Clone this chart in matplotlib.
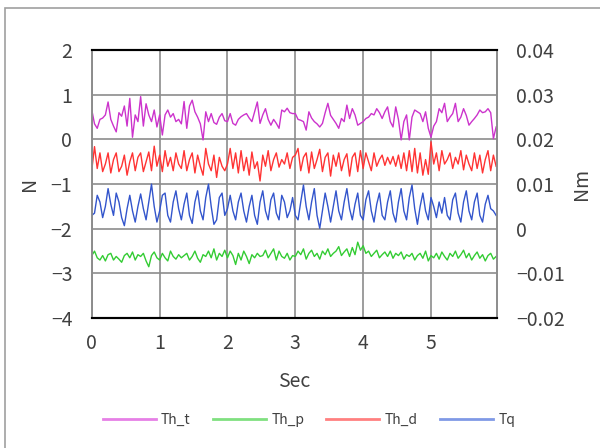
import numpy as np
import matplotlib
matplotlib.use('Agg')
import matplotlib.pyplot as plt
from matplotlib.lines import Line2D
from matplotlib.patches import Rectangle

plt.rcParams['font.family'] = ['Noto Sans CJK KR', 'DejaVu Sans']

SAMPLE_DT = 0.04  # sec between samples

# Thrust components [N]
th_t = [0.66, 0.35, 0.25, 0.45, 0.48, 0.55, 0.84, 0.45, 0.30, 0.17, 0.60, 0.52, 0.75, 0.30, 0.92, 0.05, 0.55, 0.40, 0.96, 0.30, 0.80, 0.55, 0.40, 0.66, 0.28,
        0.55, 0.10, 0.55, 0.66, 0.50, 0.58, 0.40, 0.45, 0.35, 0.85, 0.25, 0.75, 0.88, 0.62, 0.50, 0.35, -0.01, 0.62, 0.40, 0.58, 0.38, 0.34, 0.50, 0.58, 0.42,
        0.40, 0.58, 0.36, 0.32, 0.45, 0.51, 0.55, 0.58, 0.48, 0.40, 0.62, 0.84, 0.36, 0.55, 0.69, 0.45, 0.32, 0.45, 0.36, 0.25, 0.66, 0.62, 0.70, 0.60, 0.58,
        0.58, 0.45, 0.43, 0.40, 0.21, 0.62, 0.48, 0.40, 0.35, 0.28, 0.36, 0.60, 0.81, 0.54, 0.45, 0.36, 0.25, 0.47, 0.40, 0.77, 0.47, 0.69, 0.55, 0.32, 0.36,
        0.40, 0.47, 0.50, 0.58, 0.55, 0.69, 0.60, 0.47, 0.62, 0.73, 0.40, 0.28, 0.73, 0.45, -0.01, 0.40, 0.55, -0.01, 0.50, 0.66, 0.62, 0.58, 0.40, 0.62, 0.25,
        0.05, 0.30, 0.40, 0.69, 0.60, 0.81, 0.40, 0.50, 0.58, 0.81, 0.40, 0.50, 0.69, 0.54, 0.32, 0.40, 0.47, 0.55, 0.66, 0.60, 0.62, 0.69, 0.60, 0.02, 0.28]

th_p = [-2.60, -2.50, -2.65, -2.70, -2.60, -2.72, -2.58, -2.55, -2.70, -2.62, -2.68, -2.75, -2.60, -2.55, -2.65, -2.52, -2.70, -2.58, -2.62, -2.55, -2.72, -2.85, -2.60, -2.52, -2.65,
        -2.70, -2.55, -2.65, -2.72, -2.50, -2.62, -2.68, -2.58, -2.65, -2.60, -2.55, -2.70, -2.62, -2.50, -2.66, -2.75, -2.58, -2.62, -2.50, -2.65, -2.45, -2.70, -2.55, -2.62, -2.48,
        -2.65, -2.50, -2.60, -2.80, -2.55, -2.70, -2.50, -2.62, -2.78, -2.58, -2.65, -2.55, -2.62, -2.60, -2.48, -2.65, -2.55, -2.45, -2.70, -2.50, -2.62, -2.66, -2.55, -2.70, -2.60,
        -2.62, -2.50, -2.58, -2.45, -2.68, -2.55, -2.48, -2.62, -2.55, -2.68, -2.50, -2.58, -2.45, -2.62, -2.55, -2.50, -2.40, -2.60, -2.52, -2.45, -2.62, -2.42, -2.58, -2.30, -2.48,
        -2.38, -2.55, -2.50, -2.62, -2.55, -2.48, -2.65, -2.58, -2.52, -2.62, -2.50, -2.66, -2.55, -2.60, -2.52, -2.68, -2.58, -2.62, -2.55, -2.70, -2.60, -2.55, -2.66, -2.50, -2.72,
        -2.60, -2.65, -2.55, -2.68, -2.52, -2.62, -2.70, -2.55, -2.62, -2.50, -2.66, -2.58, -2.48, -2.65, -2.55, -2.70, -2.60, -2.52, -2.66, -2.58, -2.72, -2.60, -2.55, -2.68, -2.62]

th_d = [-0.68, -0.16, -0.65, -0.30, -0.72, -0.55, -0.30, -0.75, -0.45, -0.30, -0.72, -0.60, -0.35, -0.80, -0.50, -0.30, -0.70, -0.40, -0.30, -0.72, -0.50, -0.28, -0.70, -0.15, -0.60,
        -0.35, -0.72, -0.25, -0.60, -0.40, -0.70, -0.30, -0.55, -0.65, -0.25, -0.70, -0.45, -0.30, -0.75, -0.35, -0.60, -0.80, -0.20, -0.55, -0.70, -0.35, -0.85, -0.40, -0.60, -0.70,
        -0.55, -0.20, -0.65, -0.30, -0.75, -0.25, -0.70, -0.40, -0.80, -0.28, -0.65, -0.50, -0.93, -0.35, -0.60, -0.25, -0.70, -0.45, -0.30, -0.62, -0.45, -0.55, -0.30, -0.65, -0.40,
        -0.35, -0.20, -0.70, -0.40, -0.30, -0.75, -0.28, -0.65, -0.45, -0.22, -0.72, -0.40, -0.30, -0.82, -0.35, -0.60, -0.30, -0.70, -0.45, -0.32, -0.82, -0.40, -0.30, -0.72, -0.25,
        -0.65, -0.30, -0.50, -0.70, -0.30, -0.60, -0.45, -0.35, -0.58, -0.40, -0.55, -0.38, -0.60, -0.35, -0.65, -0.30, -0.70, -0.25, -0.72, -0.20, -0.75, -0.30, -0.80, -0.45, -0.78,
        -0.05, -0.55, -0.30, -0.70, -0.25, -0.55, -0.45, -0.30, -0.65, -0.40, -0.55, -0.25, -0.68, -0.35, -0.55, -0.70, -0.30, -0.65, -0.35, -0.75, -0.45, -0.25, -0.70, -0.35, -0.60]

# Torque [Nm] (right axis)
tq = [0.0030, 0.0035, 0.0075, 0.0060, 0.0025, 0.0050, 0.0090, 0.0055, 0.0030, 0.0080, 0.0060, 0.0025, 0.0007, 0.0045, 0.0075, 0.0040, 0.0015, 0.0050, 0.0078, 0.0045, 0.0020, 0.0060, 0.0100, 0.0050, 0.0015,
      0.0040, 0.0075, 0.0080, 0.0030, 0.0015, 0.0060, 0.0085, 0.0045, 0.0020, 0.0055, 0.0080, 0.0030, 0.0012, 0.0060, 0.0085, 0.0040, 0.0020, 0.0070, 0.0100, 0.0050, 0.0010, 0.0020, 0.0070, 0.0080, 0.0030,
      0.0045, 0.0075, 0.0040, 0.0020, 0.0060, 0.0080, 0.0040, 0.0015, 0.0050, 0.0075, 0.0030, 0.0010, 0.0060, 0.0085, 0.0040, 0.0020, 0.0065, 0.0080, 0.0035, 0.0020, 0.0075, 0.0060, 0.0025, 0.0040, 0.0070,
      0.0030, 0.0020, 0.0060, 0.0098, 0.0050, 0.0020, 0.0060, 0.0090, 0.0030, 0.0001, 0.0040, 0.0080, 0.0050, 0.0015, 0.0050, 0.0085, 0.0040, 0.0020, 0.0060, 0.0090, 0.0045, 0.0020, 0.0055, 0.0080, 0.0030,
      0.0020, 0.0065, 0.0085, 0.0040, 0.0015, 0.0055, 0.0080, 0.0030, 0.0020, 0.0060, 0.0085, 0.0035, 0.0015, 0.0060, 0.0090, 0.0040, 0.0020, 0.0070, 0.0098, 0.0045, 0.0010, 0.0050, 0.0080, 0.0040, 0.0020,
      0.0070, 0.0050, 0.0025, 0.0060, 0.0035, 0.0070, 0.0030, 0.0020, 0.0065, 0.0080, 0.0035, 0.0015, 0.0060, 0.0085, 0.0040, 0.0020, 0.0060, 0.0080, 0.0030, 0.0015, 0.0055, 0.0075, 0.0045, 0.0040, 0.0030]

x_ticks = [0, 1, 2, 3, 4, 5]
left_ticks = [-4, -3, -2, -1, 0, 1, 2]
right_ticks = [-0.02, -0.01, 0, 0.01, 0.02, 0.03, 0.04]
right_labels = ['\u22120.02', '\u22120.01', '0', '0.01', '0.02', '0.03', '0.04']

time = np.arange(len(th_t)) * SAMPLE_DT

colors = {'Th_t': '#cc33cc', 'Th_p': '#33cc33', 'Th_d': '#ff3333', 'Tq': '#3355cc'}
legend_colors = {'Th_t': '#e680e6', 'Th_p': '#80e080', 'Th_d': '#ff8080', 'Tq': '#8099e6'}
text_col = '#404040'
grid_col = '#8c8c8c'

fig = plt.figure(figsize=(6, 4.48), dpi=100)
ax = fig.add_axes([0.153, 0.290, 0.675, 0.598])
ax2 = ax.twinx()

ax.plot(time, th_t, color=colors['Th_t'], lw=1.0)
ax.plot(time, th_p, color=colors['Th_p'], lw=1.0)
ax.plot(time, th_d, color=colors['Th_d'], lw=1.0)
ax2.plot(time, tq, color=colors['Tq'], lw=1.0)

ax.set_xlim(0, 5.97)
ax.set_ylim(-4, 2)
ax2.set_ylim(-0.02, 0.04)
ax.set_xticks(x_ticks)
ax.set_yticks(left_ticks)
ax2.set_yticks(right_ticks)
ax2.set_yticklabels(right_labels)

ax.grid(True, color=grid_col, lw=1.2)
ax.set_axisbelow(True)
for a in (ax, ax2):
    a.tick_params(length=0, labelsize=14, labelcolor=text_col)
    for s in ('left', 'right'):
        a.spines[s].set_color(grid_col)
        a.spines[s].set_linewidth(1.2)
    for s in ('top', 'bottom'):
        a.spines[s].set_color('black')
        a.spines[s].set_linewidth(1.5)
ax.tick_params(axis='y', pad=14)
ax.tick_params(axis='x', pad=11)
ax2.tick_params(axis='y', pad=14)

ax.set_ylabel('N', fontsize=14, color=text_col, labelpad=8)
ax2.set_ylabel('Nm', fontsize=14, color=text_col, labelpad=4)
ax.set_xlabel('Sec', fontsize=14, color=text_col, labelpad=12)

handles = [Line2D([], [], color=legend_colors[k], lw=2) for k in ['Th_t', 'Th_p', 'Th_d', 'Tq']]
fig.legend(handles, ['Th_t', 'Th_p', 'Th_d', 'Tq'], loc='center', bbox_to_anchor=(0.515, 0.062),
           ncol=4, frameon=False, fontsize=10, handlelength=3.8, columnspacing=1.6,
           handletextpad=0.4, labelcolor=text_col)

# outer chart border (Excel style)
fig.add_artist(Rectangle((4.5 / 600, -0.1), 1.2, 1 - 8.5 / 448 + 0.1, transform=fig.transFigure,
                         fill=False, edgecolor='#a0a0a0', lw=1.2))

fig.savefig('out.png', dpi=100)
